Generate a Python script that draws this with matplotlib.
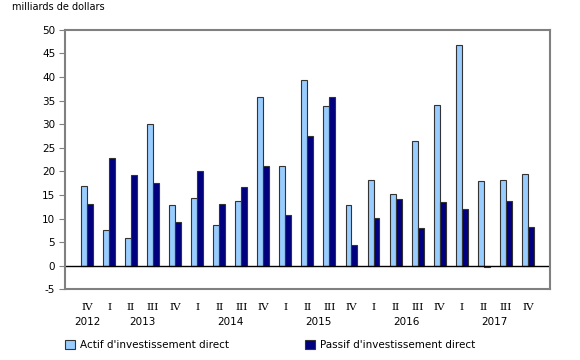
import matplotlib
matplotlib.use("Agg")
import matplotlib.pyplot as plt
import numpy as np

quarters = ["IV", "I", "II", "III", "IV", "I", "II", "III", "IV", "I", "II",
            "III", "IV", "I", "II", "III", "IV", "I", "II", "III", "IV"]
years = ["2012", "2013", "2014", "2015", "2016", "2017"]
year_pos = [0, 2.5, 6.5, 10.5, 14.5, 18.5]

actif = [17.0, 7.5, 6.0, 30.1, 12.8, 14.4, 8.6, 13.7, 35.7, 21.1, 39.3,
         33.8, 12.8, 18.1, 15.2, 26.5, 34.1, 46.7, 18.0, 18.2, 19.4]
passif = [13.0, 22.8, 19.2, 17.5, 9.3, 20.1, 13.2, 16.7, 21.1, 10.7, 27.6,
          35.8, 4.5, 10.2, 14.1, 8.0, 13.5, 12.0, -0.3, 13.7, 8.3]

light = "#99CCFF"
dark = "#000080"
frame = "#808080"
fs = 7

plt.rcParams['font.family'] = 'DejaVu Sans'
plt.rcParams['axes.unicode_minus'] = False
fig = plt.figure(figsize=(5.8, 3.6), dpi=100)
ax = fig.add_axes([0.112, 0.196, 0.836, 0.721])

x = np.arange(len(quarters))
w = 0.27
b1 = ax.bar(x - w / 2, actif, w, color=light, edgecolor="#333333", linewidth=0.8,
            label="Actif d'investissement direct")
b2 = ax.bar(x + w / 2, passif, w, color=dark, edgecolor="#333333", linewidth=0.8,
            label="Passif d'investissement direct")

ax.axhline(0, color="black", linewidth=1)
ax.set_xlim(-1, 21)
ax.set_ylim(-5, 50)
ax.set_yticks(np.arange(-5, 51, 5))
ax.tick_params(axis="y", labelsize=fs + 0.5, length=4, color=frame, pad=3)
ax.set_xticks([])
for s in ax.spines.values():
    s.set_color(frame)
    s.set_linewidth(1.5)

for i, q in enumerate(quarters):
    ax.text(i, -0.07, q, transform=ax.get_xaxis_transform(), ha="center",
            va="center", fontsize=fs + 0.5, family="DejaVu Serif")
for p, yr in zip(year_pos, years):
    ax.text(p, -0.127, yr, transform=ax.get_xaxis_transform(), ha="center",
            va="center", fontsize=fs + 0.5)

fig.text(0.02, 0.995, "milliards de dollars", fontsize=fs, va="top")

for h, xl in [(b1, 0.112), (b2, 0.526)]:
    fig.legend(handles=[h], loc="center left", bbox_to_anchor=(xl, 0.042),
               frameon=False, fontsize=fs + 0.5, handlelength=1.0,
               handleheight=1.0, handletextpad=0.4, borderpad=0,
               borderaxespad=0)

fig.savefig("out.png", dpi=100)
